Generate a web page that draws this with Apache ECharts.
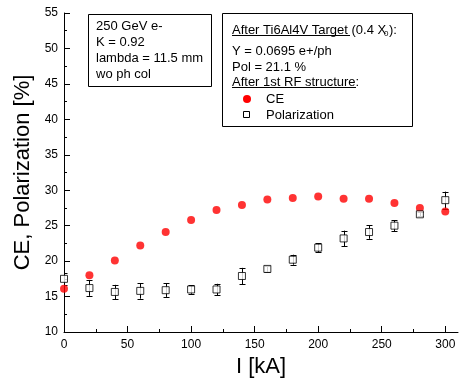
<!DOCTYPE html>
<html><head><meta charset="utf-8">
<script src="https://cdn.jsdelivr.net/npm/echarts@6/dist/echarts.min.js"></script>
<style>html,body{margin:0;padding:0;background:#fff}#c{width:460px;height:389px}</style>
</head><body><div id="c"></div>
<script>
const current = [0,20,40,60,80,100,120,140,160,180,200,220,240,260,280,300];
const ceValues = [16.1,18.0,20.1,22.2,24.1,25.8,27.2,27.9,28.7,28.9,29.1,28.8,28.8,28.2,27.5,27.0];
const polValues = [17.5,16.2,15.65,15.8,15.9,16.0,16.0,17.9,18.9,20.2,21.9,23.2,24.1,25.0,26.6,28.6];
const polErrors = [0.8,1.1,1.0,1.1,0.95,0.6,0.8,1.15,0.4,0.7,0.6,1.1,0.95,0.75,0.3,1.2];
const xTickLabels = [0,50,100,150,200,250,300];
const xMinorTicks = [25,75,125,175,225,275];
const boxLines = ['250 GeV e-','K = 0.92','lambda = 11.5 mm','wo ph col'];
const seriesNames = ['CE','Polarization'];

const FONT = 'Liberation Sans, Arial, sans-serif';
const chart = echarts.init(document.getElementById('c'), null, {renderer:'canvas'});

const ceData = current.map((x,i)=>[x,ceValues[i]]);
const polData = current.map((x,i)=>[x,polValues[i]]);
const errData = current.map((x,i)=>[x,polValues[i]-polErrors[i],polValues[i]+polErrors[i]]);

const txt = (x,y,s,extra)=>Object.assign({type:'text',x:x,y:y,z:11,style:{text:s,font:'13px '+FONT,fill:'#000',textVerticalAlign:'middle'}},extra||{});
const graphics = [
  {type:'rect',shape:{x:88.5,y:14.5,width:123,height:72},style:{fill:'#fff',stroke:'#000',lineWidth:1},z:10},
  {type:'rect',shape:{x:222.5,y:13.5,width:190,height:113},style:{fill:'#fff',stroke:'#000',lineWidth:1},z:10}
];
const boxY=[26,42,58,74];
boxLines.forEach((s,i)=>graphics.push(txt(96,boxY[i],s)));
graphics.push(txt(232,30,'After Ti6Al4V Target (0.4 X'));
graphics.push({type:'text',x:384,y:34,z:11,style:{text:'0',font:'8px '+FONT,fill:'#000',textVerticalAlign:'middle'}});
graphics.push(txt(389,30,'):'));
graphics.push({type:'line',z:11,shape:{x1:232,y1:35.5,x2:350,y2:35.5},style:{stroke:'#000',lineWidth:1}});
graphics.push(txt(232,51,'Y = 0.0695 e+/ph'));
graphics.push(txt(232,67,'Pol = 21.1 %'));
graphics.push(txt(232,82,'After 1st RF structure:'));
graphics.push({type:'line',z:11,shape:{x1:232,y1:87.5,x2:356,y2:87.5},style:{stroke:'#000',lineWidth:1}});
graphics.push({type:'circle',z:11,shape:{cx:247,cy:99,r:4},style:{fill:'#ff0000'}});
graphics.push({type:'rect',z:11,shape:{x:243.5,y:111.5,width:6,height:6},style:{fill:'#fff',stroke:'#000',lineWidth:1}});
graphics.push(txt(266,99,seriesNames[0]));
graphics.push(txt(266,115,seriesNames[1]));

const option = {
  animation:false,
  backgroundColor:'#fff',
  textStyle:{fontFamily:FONT},
  grid:{left:64,right:2,top:13,bottom:57,containLabel:false},
  xAxis:[{
    type:'value',min:0,max:310,
    name:'I [kA]',nameLocation:'middle',nameGap:19,
    nameTextStyle:{fontSize:22,color:'#000',fontFamily:FONT},
    axisLine:{show:true,onZero:false,lineStyle:{color:'#000',width:1}},
    axisTick:{show:true,inside:true,length:6,lineStyle:{color:'#000'},customValues:xTickLabels},
    axisLabel:{show:true,color:'#000',fontSize:12,margin:7,fontFamily:FONT,customValues:xTickLabels},
    splitLine:{show:false}
  },{
    type:'value',min:0,max:310,position:'bottom',gridIndex:0,
    axisLine:{show:false,onZero:false},
    axisTick:{show:true,inside:true,length:3,lineStyle:{color:'#000'},customValues:xMinorTicks},
    axisLabel:{show:false},splitLine:{show:false}
  }],
  yAxis:{
    type:'value',min:10,max:55,interval:5,
    name:'CE, Polarization [%]',nameLocation:'middle',nameGap:28,
    nameTextStyle:{fontSize:22,color:'#000',fontFamily:FONT},
    axisLine:{show:true,onZero:false,lineStyle:{color:'#000',width:1}},
    axisTick:{show:true,inside:true,length:6,lineStyle:{color:'#000'}},
    minorTick:{show:true,splitNumber:2,length:3,lineStyle:{color:'#000'}},
    axisLabel:{color:'#000',fontSize:12,margin:6,fontFamily:FONT},
    splitLine:{show:false}
  },
  graphic:graphics,
  series:[
    {name:seriesNames[0],type:'scatter',data:ceData,symbol:'circle',symbolSize:8,
     itemStyle:{color:'#ff0000'},clip:true},
    {name:'err',type:'custom',data:errData,clip:true,
     renderItem:function(params,api){
       const x=api.value(0), lo=api.value(1), hi=api.value(2);
       const p1=api.coord([x,lo]), p2=api.coord([x,hi]);
       const px=Math.round(p1[0])+0.5;
       const st={stroke:'#000',lineWidth:1};
       return {type:'group',children:[
         {type:'line',shape:{x1:px,y1:p1[1],x2:px,y2:p2[1]},style:st},
         {type:'line',shape:{x1:px-3,y1:Math.round(p1[1])+0.5,x2:px+3,y2:Math.round(p1[1])+0.5},style:st},
         {type:'line',shape:{x1:px-3,y1:Math.round(p2[1])+0.5,x2:px+3,y2:Math.round(p2[1])+0.5},style:st}
       ]};
     },encode:{x:0,y:[1,2]}},
    {name:seriesNames[1],type:'scatter',data:polData,symbol:'rect',symbolSize:7,
     itemStyle:{color:'#fff',borderColor:'#000',borderWidth:1},clip:true}
  ]
};
chart.setOption(option);
</script></body></html>
